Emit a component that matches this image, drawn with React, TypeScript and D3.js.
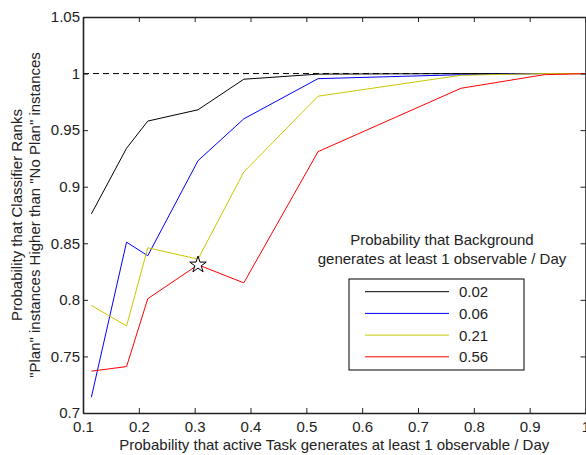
import React, { useEffect, useRef } from "react";
import * as d3 from "d3";

const taskProb = [0.115, 0.178, 0.216, 0.306, 0.388, 0.521, 0.777, 0.926, 1.0];
const bgLabels = ["0.02", "0.06", "0.21", "0.56"];
const colors = ["#000000", "#0000ff", "#c8c800", "#ff0000"];
const series002 = [0.876, 0.934, 0.958, 0.968, 0.995, 0.9995, 1.0, 1.0, 1.0];
const series006 = [0.714, 0.851, 0.839, 0.923, 0.96, 0.9955, 0.999, 1.0, 1.0];
const series021 = [0.795, 0.777, 0.846, 0.836, 0.913, 0.98, 0.9985, 1.0, 1.0];
const series056 = [0.737, 0.741, 0.801, 0.831, 0.815, 0.931, 0.987, 0.999, 1.0];
const allSeries = [series002, series006, series021, series056];
const xTicks = [0.1, 0.2, 0.3, 0.4, 0.5, 0.6, 0.7, 0.8, 0.9, 1.0];
const yTicks = [0.7, 0.75, 0.8, 0.85, 0.9, 0.95, 1.0, 1.05];
const starPoint = { x: 0.306, y: 0.831 };

const width = 586;
const height = 455;
const font = "'Liberation Sans', Arial, sans-serif";
const fs = 15;

const App = () => {
  const ref = useRef<SVGSVGElement>(null);

  useEffect(() => {
    const svg = d3.select(ref.current);
    svg.selectAll("*").remove();

    const x = d3.scaleLinear().domain([0.1, 1]).range([83, 585.5]);
    const y = d3.scaleLinear().domain([0.7, 1.05]).range([413, 17]);
    const fmt = (d: number) => d3.format("~g")(+d.toFixed(2));

    const g = svg.append("g").attr("font-family", font);

    // reference line at 1
    g.append("line")
      .attr("x1", x(0.1))
      .attr("x2", x(1))
      .attr("y1", y(1))
      .attr("y2", y(1))
      .attr("stroke", "#000")
      .attr("stroke-dasharray", "6,4");

    const line = d3
      .line<number>()
      .x((d, i) => x(taskProb[i]))
      .y(d => y(d));

    g.append("g")
      .selectAll("path")
      .data(allSeries)
      .join("path")
      .attr("d", d => line(d))
      .attr("fill", "none")
      .attr("stroke", (d, i) => colors[i])
      .attr("stroke-width", 1);

    g.append("path")
      .attr("d", d3.symbol(d3.symbolStar).size(85)())
      .attr("transform", `translate(${x(starPoint.x)},${y(starPoint.y)})`)
      .attr("fill", "#fff")
      .attr("stroke", "#000")
      .attr("stroke-width", 1);

    // axes
    const styleAxis = (sel: any) => {
      sel.select(".domain").attr("stroke", "#222").attr("stroke-width", 1.6);
      sel.selectAll(".tick line").attr("stroke", "#222");
      sel.selectAll("text").attr("font-size", fs).attr("fill", "#222").attr("font-family", font);
    };

    g.append("g")
      .attr("transform", `translate(0,${y(0.7)})`)
      .call(d3.axisBottom(x).tickValues(xTicks).tickSizeInner(-5).tickSizeOuter(0).tickPadding(8).tickFormat(fmt as any))
      .call(styleAxis);

    g.append("g")
      .attr("transform", `translate(0,${y(1.05)})`)
      .call(d3.axisTop(x).tickValues(xTicks).tickSizeInner(-5).tickSizeOuter(0).tickFormat(() => ""))
      .call(styleAxis);

    g.append("g")
      .attr("transform", `translate(${x(0.1)},0)`)
      .call(d3.axisLeft(y).tickValues(yTicks).tickSizeInner(-5).tickSizeOuter(0).tickPadding(3).tickFormat(fmt as any))
      .call(styleAxis);

    g.append("g")
      .attr("transform", `translate(${x(1)},0)`)
      .call(d3.axisRight(y).tickValues(yTicks).tickSizeInner(-5).tickSizeOuter(0).tickFormat(() => ""))
      .call(styleAxis);

    // axis titles
    g.append("text")
      .attr("x", (x(0.1) + x(1)) / 2)
      .attr("y", 450)
      .attr("text-anchor", "middle")
      .attr("font-size", fs)
      .attr("fill", "#222")
      .text("Probability that active Task generates at least 1 observable / Day");

    const yTitle = ["Probability that Classifier Ranks", "\"Plan\" instances Higher than \"No Plan\" instances"];
    g.append("g")
      .selectAll("text")
      .data(yTitle)
      .join("text")
      .attr("transform", (d, i) => `translate(${22 + i * 18},${(y(0.7) + y(1.05)) / 2}) rotate(-90)`)
      .attr("text-anchor", "middle")
      .attr("font-size", fs)
      .attr("fill", "#222")
      .text(d => d);

    // legend
    const legendTitle = ["Probability that Background", "generates at least 1 observable / Day"];
    g.append("g")
      .selectAll("text")
      .data(legendTitle)
      .join("text")
      .attr("x", 442)
      .attr("y", (d, i) => 245 + i * 18.5)
      .attr("text-anchor", "middle")
      .attr("font-size", fs)
      .attr("fill", "#222")
      .text(d => d);

    const legend = g.append("g").attr("transform", "translate(349,279)");
    legend
      .append("rect")
      .attr("width", 175)
      .attr("height", 91)
      .attr("fill", "#fff")
      .attr("stroke", "#000");

    const rows = legend
      .selectAll("g.row")
      .data(bgLabels)
      .join("g")
      .attr("class", "row")
      .attr("transform", (d, i) => `translate(0,${12.7 + i * 21.7})`);
    rows
      .append("line")
      .attr("x1", 16)
      .attr("x2", 100)
      .attr("stroke", (d, i) => colors[i]);
    rows
      .append("text")
      .attr("x", 110)
      .attr("y", 5.5)
      .attr("font-size", fs)
      .attr("fill", "#222")
      .text(d => d);
  }, []);

  return (
    <svg
      ref={ref}
      width={width}
      height={height}
      style={{ position: "absolute", left: 0, top: 0, background: "#fff" }}
    ></svg>
  );
};

export default App;
